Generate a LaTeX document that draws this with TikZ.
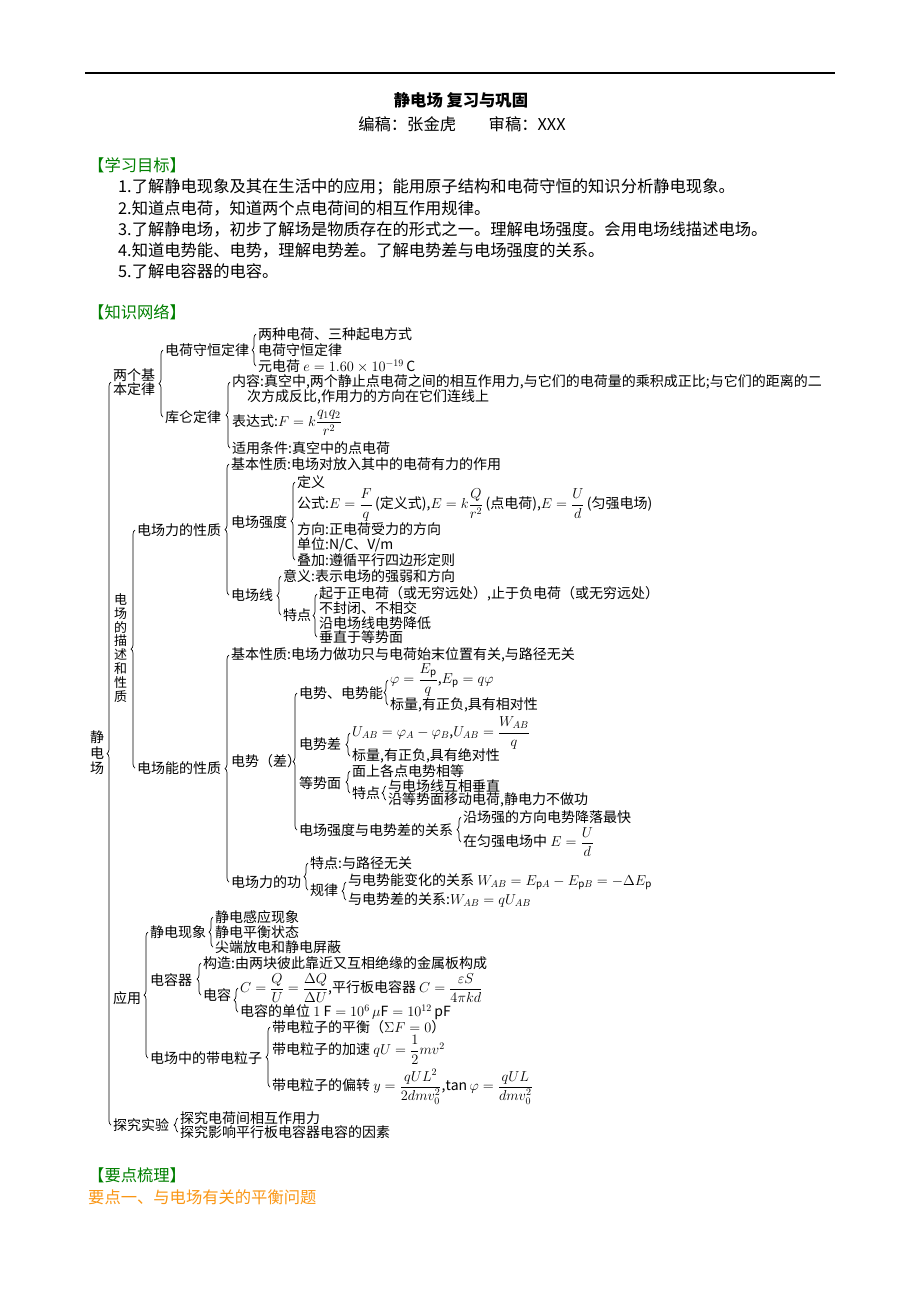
\documentclass[tikz,border=0pt]{standalone}
\usepackage{fontspec}
\setmainfont{Noto Sans CJK SC}
\usepackage{amsmath}
\usepackage{tikz}
\usetikzlibrary{decorations.pathreplacing}
\definecolor{headgreen}{RGB}{0,128,0}
\definecolor{pointorange}{RGB}{250,150,20}
\newcommand{\bodysize}{\fontsize{16.3}{21}\selectfont}
\newcommand{\treesize}{\fontsize{14}{15}\selectfont}

\begin{document}
\begin{tikzpicture}[
    x = 1pt, y = -1pt, % one unit per pixel, y downwards
    curly/.style = {decorate, decoration = {brace, mirror, amplitude = 4pt}, line width = 0.7pt}, % brace between children
    tree/.style = {anchor = west, inner sep = 0pt, font = \treesize},
    body/.style = {anchor = west, inner sep = 0pt, font = \bodysize},
    head/.style = {body, text = headgreen}
]

\path[fill = white, use as bounding box] (0,0) rectangle (920,1302);

% page header
\draw[line width = 1.4pt] (85,73) -- (835,73);
\node[font = \bodysize\bfseries, inner sep = 0pt] (Title) at (461,100) {静电场 复习与巩固};
\node[font = \bodysize, inner sep = 0pt] (Editors) at (462,124) {编稿：张金虎\hspace{2em}审稿：XXX};

\node[head] (Goals Head) at (88,165) {【学习目标】};
\node[body] (Goal 1) at (118,187) {1.了解静电现象及其在生活中的应用；能用原子结构和电荷守恒的知识分析静电现象。};
\node[body] (Goal 2) at (118,208) {2.知道点电荷，知道两个点电荷间的相互作用规律。};
\node[body] (Goal 3) at (118,229) {3.了解静电场，初步了解场是物质存在的形式之一。理解电场强度。会用电场线描述电场。};
\node[body] (Goal 4) at (118,250) {4.知道电势能、电势，理解电势差。了解电势差与电场强度的关系。};
\node[body] (Goal 5) at (118,271) {5.了解电容器的电容。};

\node[head] (Network Head) at (88,312) {【知识网络】};

% level 0 and 1
\node[tree, align = center, font = \fontsize{14}{15.5}\selectfont] (Root) at (90,753) {静\\电\\场};
\node[tree, align = left, font = \fontsize{14}{14.5}\selectfont] (Two Laws) at (113,382) {两个基\\本定律};
\node[tree, align = center, font = \fontsize{13}{13.9}\selectfont] (Field Desc) at (114,648) {电\\场\\的\\描\\述\\和\\性\\质};
\node[tree] (Application) at (113,998) {应用};
\node[tree] (Experiment) at (113,1125) {探究实验};

% two basic laws
\node[tree] (Conservation) at (165,350) {电荷守恒定律};
\node[tree] (Two Kinds) at (258,334) {两种电荷、三种起电方式};
\node[tree] (Conservation Law) at (258,350) {电荷守恒定律};
\node[tree] (Elementary) at (258,366) {元电荷 $e=1.60\times10^{-19}\,\mathrm{C}$};
\node[tree] (Coulomb) at (165,417) {库仑定律};
\node[tree] (Coulomb Content) at (232,382) {内容:真空中,两个静止点电荷之间的相互作用力,与它们的电荷量的乘积成正比;与它们的距离的二};
\node[tree] (Coulomb Content 2) at (247,397) {次方成反比,作用力的方向在它们连线上};
\node[tree] (Coulomb Formula) at (232,423) {表达式:$F=k\dfrac{q_1q_2}{r^2}$};
\node[tree] (Coulomb Scope) at (232,448) {适用条件:真空中的点电荷};

% force property of the field
\node[tree] (Force Prop) at (137,530) {电场力的性质};
\node[tree] (Force Basic) at (231,464) {基本性质:电场对放入其中的电荷有力的作用};
\node[tree] (Intensity) at (231,522) {电场强度};
\node[tree] (Int Def) at (297,482) {定义};
\node[tree] (Int Formula) at (297,505) {公式:$E=\dfrac{F}{q}$\,(定义式),$E=k\dfrac{Q}{r^2}$\,(点电荷),$E=\dfrac{U}{d}$\,(匀强电场)};
\node[tree] (Int Dir) at (297,529) {方向:正电荷受力的方向};
\node[tree] (Int Unit) at (297,545) {单位:N/C、V/m};
\node[tree] (Int Sum) at (297,560) {叠加:遵循平行四边形定则};
\node[tree] (Field Line) at (231,595) {电场线};
\node[tree] (Line Meaning) at (283,576) {意义:表示电场的强弱和方向};
\node[tree] (Line Feature) at (283,615) {特点};
\node[tree] (Feat Start) at (319,594) {起于正电荷（或无穷远处）,止于负电荷（或无穷远处）};
\node[tree] (Feat Open) at (319,608) {不封闭、不相交};
\node[tree] (Feat Lower) at (319,623) {沿电场线电势降低};
\node[tree] (Feat Perp) at (319,637) {垂直于等势面};

% energy property of the field
\node[tree] (Energy Prop) at (137,768) {电场能的性质};
\node[tree] (Energy Basic) at (231,655) {基本性质:电场力做功只与电荷始末位置有关,与路径无关};
\node[tree] (Potential) at (231,761) {电势（差）};
\node[tree] (Pot Energy) at (299,693) {电势、电势能};
\node[tree] (Pot Def) at (390,680) {$\varphi=\dfrac{E_{\mathrm{p}}}{q}$,$E_{\mathrm{p}}=q\varphi$};
\node[tree] (Pot Scalar) at (390,705) {标量,有正负,具有相对性};
\node[tree] (Pot Diff) at (299,744) {电势差};
\node[tree] (Diff Def) at (352,733) {$U_{AB}=\varphi_A-\varphi_B$,$U_{AB}=\dfrac{W_{AB}}{q}$};
\node[tree] (Diff Scalar) at (352,756) {标量,有正负,具有绝对性};
\node[tree] (Equi) at (299,783) {等势面};
\node[tree] (Equi Equal) at (352,771) {面上各点电势相等};
\node[tree] (Equi Feature) at (352,793) {特点};
\node[tree] (Equi Perp) at (388,786) {与电场线互相垂直};
\node[tree] (Equi Work) at (388,800) {沿等势面移动电荷,静电力不做功};
\node[tree] (Relation) at (299,830) {电场强度与电势差的关系};
\node[tree] (Rel Fast) at (463,817) {沿场强的方向电势降落最快};
\node[tree] (Rel Uniform) at (463,842) {在匀强电场中 $E=\dfrac{U}{d}$};
\node[tree] (Work) at (231,882) {电场力的功};
\node[tree] (Work Feature) at (310,863) {特点:与路径无关};
\node[tree] (Work Rule) at (310,890) {规律};
\node[tree] (Rule Energy) at (348,882) {与电势能变化的关系 $W_{AB}=E_{\mathrm{p}A}-E_{\mathrm{p}B}=-\Delta E_{\mathrm{p}}$};
\node[tree] (Rule Diff) at (348,900) {与电势差的关系:$W_{AB}=qU_{AB}$};

% applications
\node[tree] (Electrostatic) at (150,932) {静电现象};
\node[tree] (Induction) at (215,917) {静电感应现象};
\node[tree] (Equilibrium) at (215,932) {静电平衡状态};
\node[tree] (Point Discharge) at (215,947) {尖端放电和静电屏蔽};
\node[tree] (Capacitor) at (150,980) {电容器};
\node[tree] (Cap Build) at (203,963) {构造:由两块彼此靠近又互相绝缘的金属板构成};
\node[tree] (Capacitance) at (203,995) {电容};
\node[tree] (Cap Def) at (240,988) {$C=\dfrac{Q}{U}=\dfrac{\Delta Q}{\Delta U}$,平行板电容器 $C=\dfrac{\varepsilon S}{4\pi kd}$};
\node[tree] (Cap Unit) at (240,1012) {电容的单位 $1\ \mathrm{F}=10^{6}\,\mu\mathrm{F}=10^{12}\,\mathrm{pF}$};
\node[tree] (Particle) at (150,1058) {电场中的带电粒子};
\node[tree] (Balance) at (272,1027) {带电粒子的平衡（$\Sigma F=0$）};
\node[tree] (Accelerate) at (272,1050) {带电粒子的加速 $qU=\dfrac{1}{2}mv^2$};
\node[tree] (Deflect) at (272,1087) {带电粒子的偏转 $y=\dfrac{qUL^2}{2dmv_0^2}$,$\tan\varphi=\dfrac{qUL}{dmv_0^2}$};

% experiments
\node[tree] (Exp Force) at (180,1118) {探究电荷间相互作用力};
\node[tree] (Exp Cap) at (180,1132) {探究影响平行板电容器电容的因素};

% braces
\draw[curly] ([xshift=-2pt]Two Laws.west) -- ([xshift=-2pt]Two Laws.west |- Experiment.west);
\draw[curly] ([xshift=-2pt]Conservation.west) -- ([xshift=-2pt]Conservation.west |- Coulomb.west);
\draw[curly] ([xshift=-2pt]Two Kinds.west) -- ([xshift=-2pt]Two Kinds.west |- Elementary.west);
\draw[curly] ([xshift=-2pt]Coulomb Content.west) -- ([xshift=-2pt]Coulomb Content.west |- Coulomb Scope.west);
\draw[curly] ([xshift=-2pt]Force Prop.west) -- ([xshift=-2pt]Force Prop.west |- Energy Prop.west);
\draw[curly] ([xshift=-2pt]Force Basic.west) -- ([xshift=-2pt]Force Basic.west |- Field Line.west);
\draw[curly] ([xshift=-2pt]Int Def.west) -- ([xshift=-2pt]Int Def.west |- Int Sum.west);
\draw[curly] ([xshift=-2pt]Line Meaning.west) -- ([xshift=-2pt]Line Meaning.west |- Line Feature.west);
\draw[curly] ([xshift=-2pt]Feat Start.west) -- ([xshift=-2pt]Feat Start.west |- Feat Perp.west);
\draw[curly] ([xshift=-2pt]Energy Basic.west) -- ([xshift=-2pt]Energy Basic.west |- Work.west);
\draw[curly] ([xshift=-2pt]Pot Energy.west) -- ([xshift=-2pt]Pot Energy.west |- Relation.west);
\draw[curly] ([xshift=-2pt]Pot Def.west) -- ([xshift=-2pt]Pot Def.west |- Pot Scalar.west);
\draw[curly] ([xshift=-2pt]Diff Def.west) -- ([xshift=-2pt]Diff Def.west |- Diff Scalar.west);
\draw[curly] ([xshift=-2pt]Equi Equal.west) -- ([xshift=-2pt]Equi Equal.west |- Equi Feature.west);
\draw[curly] ([xshift=-2pt]Equi Perp.west) -- ([xshift=-2pt]Equi Perp.west |- Equi Work.west);
\draw[curly] ([xshift=-2pt]Rel Fast.west) -- ([xshift=-2pt]Rel Fast.west |- Rel Uniform.west);
\draw[curly] ([xshift=-2pt]Work Feature.west) -- ([xshift=-2pt]Work Feature.west |- Work Rule.west);
\draw[curly] ([xshift=-2pt]Rule Energy.west) -- ([xshift=-2pt]Rule Energy.west |- Rule Diff.west);
\draw[curly] ([xshift=-2pt]Electrostatic.west) -- ([xshift=-2pt]Electrostatic.west |- Particle.west);
\draw[curly] ([xshift=-2pt]Induction.west) -- ([xshift=-2pt]Induction.west |- Point Discharge.west);
\draw[curly] ([xshift=-2pt]Cap Build.west) -- ([xshift=-2pt]Cap Build.west |- Capacitance.west);
\draw[curly] ([xshift=-2pt]Cap Def.west) -- ([xshift=-2pt]Cap Def.west |- Cap Unit.west);
\draw[curly] ([xshift=-2pt]Balance.west) -- ([xshift=-2pt]Balance.west |- Deflect.west);
\draw[curly] ([xshift=-2pt]Exp Force.west) -- ([xshift=-2pt]Exp Force.west |- Exp Cap.west);

\node[head] (Points Head) at (88,1175) {【要点梳理】};
\node[body, text = pointorange] (Point One) at (88,1197) {要点一、与电场有关的平衡问题};

\end{tikzpicture}
\end{document}
